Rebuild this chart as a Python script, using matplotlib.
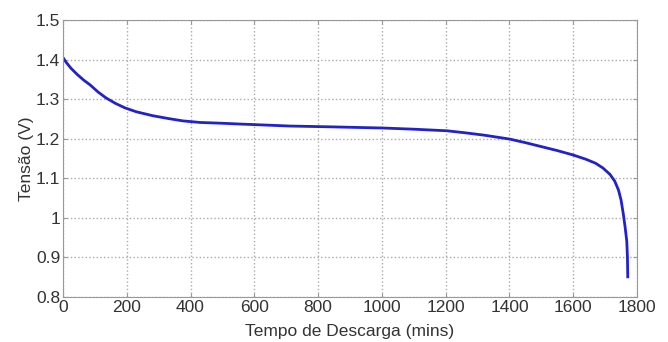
import numpy as np
import matplotlib.pyplot as plt

plt.rcParams['font.family'] = ['Liberation Sans', 'DejaVu Sans']

# curva de descarga
tempo = [0, 10, 25, 45, 65, 85, 110, 135, 165, 194, 230, 282, 330, 376,
         430, 500, 555, 650, 711, 837, 1003, 1100, 1204, 1260, 1320, 1401,
         1450, 1500, 1550, 1599, 1640, 1670, 1693, 1715, 1730, 1742, 1750,
         1757, 1763, 1768, 1770, 1771]
tensao = [1.405, 1.393, 1.378, 1.362, 1.348, 1.336, 1.318, 1.303, 1.289,
          1.278, 1.268, 1.258, 1.251, 1.245, 1.241, 1.239, 1.237, 1.234,
          1.232, 1.230, 1.227, 1.224, 1.220, 1.215, 1.209, 1.199, 1.190,
          1.180, 1.170, 1.159, 1.148, 1.138, 1.126, 1.110, 1.093, 1.070,
          1.045, 1.010, 0.975, 0.940, 0.900, 0.851]

fig = plt.figure(figsize=(6.68, 3.42), dpi=100)
ax = fig.add_axes([0.0943, 0.1316, 0.8593, 0.81])

ax.plot(tempo, tensao, color='#2222c8', linewidth=2)

ax.set_xlim(0, 1800)
ax.set_ylim(0.8, 1.5)
ax.set_xticks(np.arange(0, 1801, 200))
ax.set_yticks([0.8, 0.9, 1.0, 1.1, 1.2, 1.3, 1.4, 1.5])
ax.set_yticklabels(['0.8', '0.9', '1', '1.1', '1.2', '1.3', '1.4', '1.5'])
ax.grid(True, linestyle=':', color='#aaaaaa', linewidth=1)
ax.tick_params(direction='in', length=3, labelsize=12.5, color='#999999',
               labelcolor='#333333', top=True, right=True, pad=2)
for s in ax.spines.values():
    s.set_color('#999999')

ax.set_xlabel('Tempo de Descarga (mins)', fontsize=12.5, labelpad=7,
              color='#333333')
ax.set_ylabel('Tensão (V)', fontsize=12.5, labelpad=1, color='#333333')

fig.savefig('out.png', dpi=100)
